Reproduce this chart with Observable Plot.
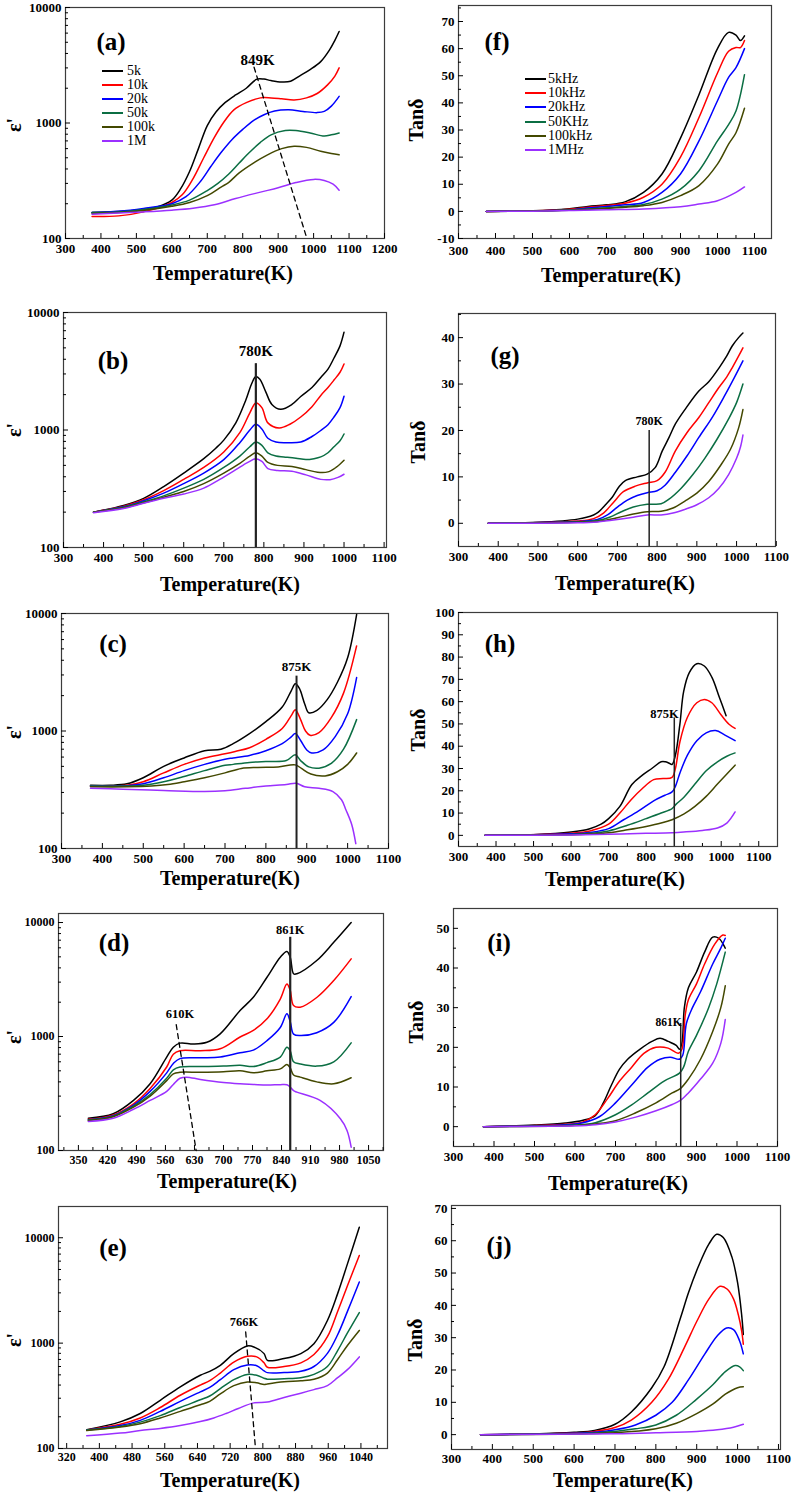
<!DOCTYPE html>
<html><head><meta charset="utf-8">
<script src="https://cdn.jsdelivr.net/npm/d3@7"></script>
<script src="https://cdn.jsdelivr.net/npm/@observablehq/plot@0.6"></script>
<style>
body{margin:0;background:#fff;}
#fig{position:relative;width:796px;height:1497px;overflow:hidden;background:#fff;font-family:"Liberation Serif","DejaVu Serif","Times New Roman",serif;color:#000;}
#fig svg{position:absolute;}
.abs{position:absolute;white-space:nowrap;line-height:1;}
.xl{font-weight:bold;font-size:20px;transform:translate(-50%,-50%);}
.yl{font-weight:bold;font-size:20px;transform:translate(-50%,-50%) rotate(-90deg);}
.tag{font-weight:bold;font-size:25px;transform:translate(-50%,-50%);}
.leg{font-size:14px;transform:translate(0,-50%);}
.legl{position:absolute;height:0;border-top:2px solid #000;}
</style></head><body><div id="fig"></div>
<script>
// ---------- series labels and colours ----------
const freqEps = ["5k","10k","20k","50k","100k","1M"];
const freqTan = ["5kHz","10kHz","20kHz","50KHz","100kHz","1MHz"];
const colors = ["#000000","#ff0000","#0000ff","#0b6e43","#434800","#9b30ff"];

// ---------- (a) eps' ----------
const epsA = [
 [[375,168],[450,171],[520,178],[560,188],[600,215],[625,270],[650,380],[675,600],[700,950],[725,1250],[750,1500],[780,1750],[810,2000],[840,2400],[860,2400],[880,2330],[910,2270],[935,2300],[960,2550],[990,2900],[1020,3400],[1045,4300],[1060,5200],[1072,6200]],
 [[375,155],[450,157],[520,170],[600,205],[630,240],[660,330],[690,500],[720,750],[745,1000],[775,1300],[810,1500],[850,1650],[880,1650],[910,1620],[945,1580],[980,1650],[1010,1800],[1040,2150],[1060,2550],[1072,3000]],
 [[375,168],[450,172],[520,182],[600,200],[640,230],[680,310],[710,420],[740,560],[770,720],[800,880],[830,1050],[860,1180],[890,1270],[930,1300],[970,1260],[1010,1230],[1030,1260],[1050,1400],[1072,1700]],
 [[375,168],[450,170],[520,178],[600,195],[650,215],[700,260],[730,300],[760,360],[790,450],[820,560],[850,680],[880,790],[920,860],[950,860],[990,820],[1030,770],[1050,790],[1072,820]],
 [[375,165],[450,168],[520,175],[600,190],[650,205],[700,235],[740,280],[760,305],[790,370],[830,450],[870,530],[910,600],[945,630],[980,615],[1020,570],[1050,545],[1072,530]],
 [[375,162],[450,166],[520,170],[600,176],[660,183],[720,196],[780,222],[850,252],[900,275],[950,305],[1000,325],[1030,318],[1055,295],[1072,262]]
];
// ---------- (f) tan delta ----------
const tanF = [
 [[375,0],[450,0.05],[500,0.2],[550,0.5],[600,1],[650,1.8],[700,2.4],[750,3.5],[800,7],[850,13.8],[900,27],[950,43],[1000,60],[1030,66],[1050,65],[1062,63],[1073,64.7]],
 [[375,0],[450,0.05],[500,0.2],[550,0.4],[600,0.8],[650,1.5],[700,2.2],[750,3],[800,5.2],[850,10],[900,20],[950,34.6],[1000,51],[1030,59],[1050,60.4],[1062,60.4],[1073,63]],
 [[375,0],[500,0.15],[550,0.3],[600,0.6],[650,1.2],[700,1.8],[750,2.4],[800,3.3],[850,7],[900,13.8],[950,26],[1000,40.8],[1030,49.4],[1050,53],[1073,60]],
 [[375,0],[500,0.1],[600,0.5],[650,0.9],[700,1.3],[750,1.8],[800,2.5],[850,4.5],[900,8.2],[950,15],[1000,26],[1030,32],[1050,37],[1073,50.4]],
 [[375,0],[500,0.1],[600,0.4],[650,0.7],[700,1.1],[750,1.5],[800,2.1],[850,3.3],[900,5.8],[950,9.5],[1000,17.4],[1030,24.8],[1050,29],[1073,38]],
 [[375,0],[500,0.05],[600,0.3],[700,0.6],[800,0.9],[900,1.7],[950,2.7],[1000,3.9],[1050,7],[1073,9]]
];
// ---------- (b) eps' ----------
const epsB = [
 [[375,200],[450,228],[500,262],[550,330],[600,430],[650,570],[680,700],[700,820],[730,1150],[755,1800],[770,2500],[780,2850],[790,2700],[805,2100],[820,1650],[842,1500],[870,1650],[892,1930],[920,2300],[942,2800],[960,3300],[975,4100],[990,5200],[1000,6800]],
 [[375,200],[450,225],[500,255],[550,305],[600,380],[650,480],[700,650],[740,950],[765,1400],[780,1700],[795,1550],[810,1150],[838,1040],[865,1120],[892,1290],[920,1580],[942,1970],[960,2300],[975,2660],[990,3100],[1000,3650]],
 [[375,200],[450,222],[500,250],[550,290],[600,350],[650,430],[700,560],[740,780],[765,1000],[780,1120],[795,1020],[810,850],[830,790],[855,780],[892,790],[920,880],[942,990],[960,1110],[975,1290],[990,1550],[1000,1940]],
 [[375,200],[450,220],[500,245],[550,275],[600,320],[650,380],[700,480],[740,600],[765,720],[780,790],[795,740],[810,640],[830,600],[850,590],[880,575],[905,560],[925,570],[942,590],[960,640],[975,720],[990,810],[1000,925]],
 [[375,200],[450,218],[500,240],[550,268],[600,300],[650,350],[700,430],[740,520],[765,600],[780,640],[795,600],[810,530],[834,500],[870,490],[905,460],[934,437],[960,440],[980,480],[1000,553]],
 [[375,198],[450,215],[500,238],[550,262],[600,285],[650,320],[690,380],[730,460],[760,530],[780,570],[795,540],[810,470],[834,452],[870,445],[905,415],[942,380],[965,378],[985,395],[1000,420]]
];
// ---------- (g) tan delta ----------
const tanG = [
 [[375,0],[500,0.2],[600,0.9],[640,1.8],[652,2.4],[670,4],[687,5.6],[705,8],[720,9.2],[750,10],[775,10.6],[795,12],[813,15.6],[830,18.5],[846,21.4],[870,24.5],[905,28.5],[930,30.5],[956,33.5],[975,36],[989,38.2],[1005,40],[1016,41]],
 [[375,0],[600,0.5],[640,1],[665,2.2],[690,4.5],[715,6.8],[745,8],[775,8.7],[800,9.2],[820,11],[846,15.6],[875,19.5],[905,22.8],[930,26],[955,29.2],[975,31.5],[989,33.5],[1005,36],[1016,37.8]],
 [[375,0],[600,0.4],[650,0.8],[675,1.8],[700,3.5],[725,5],[750,6],[775,6.6],[800,7],[820,8.2],[846,11],[875,14.5],[905,18.5],[940,23],[970,27.5],[995,31.5],[1016,35]],
 [[375,0],[600,0.3],[650,0.6],[680,1.3],[710,2.5],[740,3.5],[775,4.1],[810,4.2],[830,5.2],[860,7.5],[890,10.5],[920,14],[950,18],[980,22.5],[1000,26],[1016,30]],
 [[375,0],[600,0.2],[650,0.4],[700,1.2],[740,2],[775,2.5],[810,2.6],[840,3.3],[870,4.8],[900,6.5],[930,9],[960,12.5],[985,16],[1005,20.5],[1016,24.5]],
 [[375,0],[600,0.1],[650,0.3],[700,0.8],[740,1.3],[775,1.8],[810,1.8],[840,2.2],[870,3],[900,4],[930,5.5],[955,7.5],[980,10.5],[1000,14],[1010,16.5],[1016,19]]
];
// ---------- (c) eps' ----------
const epsC = [
 [[371,345],[420,345],[460,355],[500,400],[550,500],[600,590],[650,680],[690,700],[720,780],[760,950],[800,1200],[840,1600],[862,2200],[872,2520],[882,2300],[895,1700],[905,1430],[925,1500],[950,1850],[975,2600],[1000,4200],[1022,9800]],
 [[371,340],[460,345],[500,370],[550,440],[600,520],[650,590],[700,640],[725,670],[760,720],[800,850],[840,1050],[862,1350],[872,1520],[885,1250],[897,1000],[908,920],[930,970],[960,1300],[990,2100],[1022,5300]],
 [[371,340],[460,342],[500,355],[550,400],[600,460],[650,520],[700,575],[720,590],[760,620],[800,680],[840,780],[862,890],[872,950],[885,830],[900,690],[912,650],[940,690],[970,900],[1000,1400],[1022,2850]],
 [[371,340],[460,340],[500,345],[550,370],[600,410],[650,460],[700,510],[720,520],[760,540],[800,550],[850,560],[872,627],[885,560],[905,495],[930,483],[960,530],[990,700],[1022,1250]],
 [[371,335],[460,335],[520,340],[560,350],[600,370],[650,400],[700,440],[740,480],[780,490],[830,495],[872,515],[887,480],[910,430],[945,415],[975,450],[1000,520],[1022,650]],
 [[371,325],[450,320],[550,312],[650,305],[700,310],[750,325],[800,340],[850,350],[874,359],[895,335],[930,325],[964,305],[985,260],[996,213],[1010,160],[1020,110]]
];
// ---------- (h) tan delta ----------
const tanH = [
 [[371,0],[500,0.3],[600,1.5],[650,3],[680,5],[700,7.5],[730,13],[762,22.8],[790,27],[815,30],[840,33],[851,33],[860,32.5],[869,31.8],[878,36],[890,50],[900,64.6],[915,73],[935,77],[955,76],[975,71],[995,62],[1013,53.7]],
 [[371,0],[600,1],[650,2],[700,5],[730,10],[760,16],[790,21],[820,25],[845,25.5],[869,26],[878,30],[890,42],[910,53],[935,59.5],[955,61],[975,59.5],[1000,54],[1020,50],[1037,48]],
 [[371,0],[600,0.7],[650,1.3],[700,3],[740,7],[780,11],[820,15.5],[850,18],[869,19.5],[878,22],[890,28],[910,36],[935,42.5],[960,46],[985,47],[1010,45],[1037,42.5]],
 [[371,0],[600,0.4],[650,0.9],[700,2],[750,4.5],[800,7.5],[840,10],[869,12],[880,14],[900,17],[930,23],[960,29],[990,33],[1015,35.5],[1037,37]],
 [[371,0],[600,0.3],[650,0.6],[700,1.2],[750,2.5],[800,4],[840,5.5],[869,7],[900,9.5],[930,13],[960,17.5],[990,23],[1015,27.5],[1037,31.5]],
 [[371,0],[600,0.2],[700,0.5],[800,0.9],[869,1.2],[900,1.5],[950,2.2],[990,3.3],[1015,5.5],[1037,10.5]]
];
// ---------- (d) eps' ----------
const epsD = [
 [[374,192],[434,210],[483,275],[523,385],[563,660],[579,805],[595,875],[628,860],[660,890],[692,1055],[740,1690],[772,2210],[805,3310],[837,4960],[853,5570],[861,4960],[869,3550],[877,3550],[925,4640],[966,6700],[1008,10000]],
 [[374,188],[434,205],[483,257],[523,350],[563,540],[579,700],[595,750],[644,750],[692,780],[740,990],[772,1130],[805,1430],[837,2130],[853,2890],[861,2540],[869,1870],[885,1810],[925,2200],[966,3100],[1008,4800]],
 [[374,186],[434,202],[483,250],[523,330],[563,480],[579,580],[595,640],[644,650],[692,660],[740,720],[772,760],[805,920],[837,1200],[853,1580],[861,1350],[869,1050],[885,1020],[925,1080],[966,1330],[1008,2240]],
 [[374,185],[434,200],[483,245],[523,310],[563,430],[579,510],[595,540],[644,545],[700,550],[740,560],[772,545],[805,590],[837,660],[853,805],[861,750],[869,600],[885,575],[925,550],[966,600],[1008,880]],
 [[374,183],[434,198],[483,240],[523,300],[563,410],[579,470],[595,485],[644,485],[700,490],[740,500],[772,480],[805,500],[837,520],[853,567],[861,530],[869,460],[885,440],[925,400],[966,385],[1008,435]],
 [[374,180],[434,192],[483,230],[523,275],[563,330],[579,380],[595,430],[611,440],[644,420],[700,395],[740,385],[772,380],[805,375],[837,378],[853,377],[861,360],[869,335],[877,325],[933,275],[982,190],[998,150],[1008,107]]
];
// ---------- (i) tan delta ----------
const tanI = [
 [[374,0],[500,0.4],[576,0.9],[620,1.6],[650,2.8],[670,6],[690,10.5],[710,14.5],[730,17],[760,19.5],[790,21.5],[810,22.3],[830,21.5],[850,20.5],[858,19.5],[864,21],[870,30],[880,35],[900,39],[920,44],[940,47.8],[955,47.5],[971,45]],
 [[374,0],[576,0.6],[620,1.2],[650,3],[680,7],[710,11.5],[740,15],[770,18.5],[800,20],[830,19.8],[855,18.5],[864,19.5],[872,28],[880,32],[900,36],[920,41],[945,46],[965,48.3],[971,48.2]],
 [[374,0],[576,0.5],[620,1],[660,2.5],[700,6],[740,10.5],[780,15],[810,17],[835,17.5],[858,17],[866,18],[875,26],[890,30],[910,34],[940,41],[960,45],[971,47.5]],
 [[374,0],[600,0.4],[650,1],[700,3],[740,5.5],[780,8.5],[820,11.5],[858,13.5],[868,15],[880,19],[900,23],[930,30],[950,36],[971,44]],
 [[374,0],[600,0.3],[650,0.7],[700,1.5],[750,3.5],[800,6],[840,8.5],[860,9.6],[880,12],[910,17],[940,24],[960,30],[971,35.5]],
 [[374,0],[600,0.2],[650,0.5],[700,1.2],[750,2.4],[800,4],[840,5.6],[860,6.6],[880,8.5],[910,12],[940,16],[960,21],[971,27]]
];
// ---------- (e) eps' ----------
const epsE = [
 [[369,151],[451,179],[500,215],[549,287],[598,385],[647,496],[670,540],[696,616],[729,795],[762,940],[778,920],[803,795],[811,687],[852,713],[893,795],[925,988],[958,1640],[983,2950],[1007,5650],[1036,12600]],
 [[369,150],[451,170],[500,195],[549,245],[598,320],[647,400],[670,440],[696,520],[729,660],[762,750],[785,740],[803,650],[811,590],[852,600],[893,650],[925,780],[958,1150],[983,2000],[1007,3500],[1036,6800]],
 [[369,150],[451,165],[500,185],[549,225],[598,280],[647,345],[670,380],[696,450],[729,560],[762,620],[785,610],[803,545],[811,525],[852,525],[893,540],[925,600],[958,800],[983,1200],[1007,2000],[1036,3800]],
 [[369,150],[451,162],[500,178],[549,205],[598,245],[647,290],[670,315],[696,370],[729,450],[762,505],[785,495],[803,465],[811,455],[852,460],[893,470],[925,505],[958,600],[983,850],[1007,1250],[1036,1950]],
 [[369,148],[451,160],[500,172],[549,195],[598,225],[647,260],[670,280],[696,330],[729,395],[762,428],[785,420],[803,405],[811,410],[852,430],[893,440],[925,455],[958,520],[983,700],[1007,950],[1036,1320]],
 [[369,132],[451,140],[500,148],[549,155],[598,165],[647,180],[680,195],[710,215],[740,240],[778,271],[811,276],[852,305],[893,335],[925,362],[958,395],[983,470],[1007,560],[1036,740]]
];
// ---------- (j) tan delta ----------
const tanJ = [
 [[371,0],[500,0.2],[600,0.7],[650,1.3],[700,3.2],[740,7],[790,14.5],[820,21],[860,36],[880,44],[904,52],[930,59],[949,62],[965,61],[986,55],[1000,47],[1010,37],[1014,31]],
 [[371,0],[600,0.5],[650,1],[700,2.2],[740,4.5],[790,10],[830,17],[870,27],[900,35],[930,42],[957,45.9],[975,45],[990,42],[1002,37],[1010,32],[1014,28]],
 [[371,0],[600,0.4],[650,0.7],[700,1.5],[750,3],[800,6],[840,10],[880,17],[920,25],[950,30.5],[973,33],[990,32.5],[1005,29],[1014,25]],
 [[371,0],[650,0.5],[700,1],[750,1.8],[800,3],[850,6],[900,11],[940,15.5],[970,19.5],[994,21.4],[1005,21],[1014,19.8]],
 [[371,0],[700,0.6],[800,1.8],[850,3.5],[900,6.5],[940,9.5],[970,12.5],[1000,14.5],[1014,14.8]],
 [[371,0],[700,0.3],[800,0.6],[900,1],[950,1.5],[990,2.3],[1014,3.2]]
];

// ---------- tick values ----------
const ticks300to1200 = d3.range(300, 1201, 100);
const ticks300to1100 = d3.range(300, 1101, 100);
const ticksD = d3.range(350, 1051, 70);
const ticksE = d3.range(320, 1041, 80);
const epsTicks = [100, 1000, 10000];

function logMinor(lo, hi) {
  const out = [];
  for (let k = 100; k <= 10000; k *= 10) for (let m = 2; m <= 9; m++) { const v = m * k; if (v > lo && v < hi) out.push(v); }
  return out;
}
function between(ticks, lo, hi, step) {
  const out = [];
  for (let i = 0; i < ticks.length + 1; i++) { const v = ticks[0] - step / 2 + i * step; if (v > lo && v < hi) out.push(v); }
  return out;
}

const fig = document.getElementById("fig");
function txt(t, x, y, cls) {
  const d = document.createElement("div");
  d.className = "abs " + cls; d.textContent = t;
  d.style.left = x + "px"; d.style.top = y + "px";
  fig.appendChild(d);
}

function panel(p) {
  const [x0, x1, y0, y1] = p.frame;
  const ml = 50, mr = 12, mt = 12, mb = 30;
  const lin = !p.log;
  const yMinor = lin ? between(p.yTicks, p.y[0], p.y[1], p.yStep) : logMinor(p.y[0], p.y[1]);
  const xMinor = between(p.xTicks, p.x[0], p.x[1], p.xStep);
  const marks = [
    Plot.frame({stroke: "#3c3c3c", strokeWidth: 1.2}),
    Plot.axisX(xMinor, {anchor: "bottom", tickSize: -3, tickFormat: () => "", label: null}),
    Plot.axisY(yMinor, {anchor: "left", tickSize: -3, tickFormat: () => "", label: null}),
    Plot.axisX(p.xTicks, {anchor: "bottom", tickSize: -5, tickPadding: p.xpad || 10, tickFormat: d => String(d), label: null, fontSize: p.xfs || 13, fontWeight: "bold"}),
    Plot.axisY(p.yTicks, {anchor: "left", tickSize: -5, tickPadding: 9, tickFormat: d => String(d), label: null, fontSize: p.yfs || 13, fontWeight: "bold"}),
    ...p.series.map((s, i) => Plot.line(s, {x: d => d[0], y: d => d[1], stroke: colors[i], strokeWidth: 1.5, curve: "catmull-rom"})),
    ...(p.extras || [])
  ];
  const svg = Plot.plot({
    width: x1 - x0 + ml + mr, height: y1 - y0 + mt + mb,
    marginLeft: ml, marginRight: mr, marginTop: mt, marginBottom: mb,
    x: {domain: p.x},
    y: {type: p.log ? "log" : "linear", domain: p.y},
    style: {background: "transparent", overflow: "visible", fontFamily: "'Liberation Serif','DejaVu Serif','Times New Roman',serif", color: "#000"},
    marks
  });
  svg.style.left = (x0 - ml) + "px";
  svg.style.top = (y0 - mt) + "px";
  fig.appendChild(svg);
}

function ann(x, y, t, fs) {
  return Plot.text([{x, y, t}], {x: "x", y: "y", text: "t", fontSize: fs, fontWeight: "bold", fill: "#000"});
}
function dashed(pts) {
  return Plot.line(pts, {x: d => d[0], y: d => d[1], stroke: "#000", strokeWidth: 1.3, strokeDasharray: "5,4"});
}
function vline(x, ya, yb, w) {
  return Plot.ruleX([x], {y1: ya, y2: yb, stroke: "#222", strokeWidth: w || 2});
}

// (a)
panel({frame: [65, 384, 7, 238], x: [300, 1200], y: [100, 10000], log: true, series: epsA,
  xTicks: ticks300to1200, xStep: 100, yTicks: epsTicks,
  extras: [dashed([[832, 3040], [981, 100]]), ann(842, 3470, "849K", 15)]});
// (f)
panel({frame: [458, 771, 5, 238], x: [300, 1146], y: [-10, 75.9], series: tanF,
  xTicks: ticks300to1100, xStep: 100, xpad: 12, yTicks: d3.range(-10, 71, 10), yStep: 10});
// (b)
panel({frame: [63, 386, 312, 547], x: [300, 1106], y: [100, 10000], log: true, series: epsB,
  xTicks: ticks300to1100, xStep: 100, yTicks: epsTicks,
  extras: [vline(780, 100, 3670, 2.2), ann(780, 4700, "780K", 15)]});
// (g)
panel({frame: [458, 775, 313, 546], x: [300, 1098], y: [-5, 45.2], series: tanG,
  xTicks: ticks300to1100, xStep: 100, yTicks: d3.range(0, 41, 10), yStep: 10,
  extras: [vline(780, -5, 20, 1.5), ann(780, 21.9, "780K", 12)]});
// (c)
panel({frame: [61, 388, 613, 848], x: [300, 1100], y: [100, 10000], log: true, series: epsC,
  xTicks: ticks300to1100, xStep: 100, yTicks: epsTicks,
  extras: [vline(875, 100, 2930, 2), ann(875, 3500, "875K", 13)]});
// (h)
panel({frame: [458, 777, 612, 846], x: [300, 1150], y: [-5, 100], series: tanH,
  xTicks: ticks300to1100, xStep: 100, yTicks: d3.range(0, 101, 10), yStep: 10,
  extras: [vline(875, -5, 52.7, 1.5), ann(849, 54.3, "875K", 12.5)]});
// (d)
panel({frame: [58, 383, 913, 1150], x: [302, 1086], y: [100, 12000], log: true, series: epsD,
  xTicks: ticksD, xStep: 70, xfs: 12, yfs: 12, yTicks: epsTicks,
  extras: [vline(861, 100, 7420, 2.2), ann(861, 8600, "861K", 12.5), dashed([[586, 1270], [634, 100]]), ann(595, 1560, "610K", 12.5)]});
// (i)
panel({frame: [453, 777, 908, 1146], x: [300, 1100], y: [-5, 55], series: tanI,
  xTicks: ticks300to1100, xStep: 100, yTicks: d3.range(0, 51, 10), yStep: 10,
  extras: [vline(861, -5, 26, 1.5), ann(831, 26.3, "861K", 11.5)]});
// (e)
panel({frame: [58, 387, 1206, 1448], x: [300, 1105], y: [100, 19800], log: true, series: epsE,
  xTicks: ticksE, xStep: 80, xfs: 12, yfs: 12, xpad: 9, yTicks: epsTicks,
  extras: [dashed([[758, 1275], [782, 100]]), ann(754, 1600, "766K", 12.5)]});
// (j)
panel({frame: [451, 780, 1205, 1449], x: [300, 1105], y: [-4.6, 70.9], series: tanJ,
  xTicks: ticks300to1100, xStep: 100, xpad: 9, yTicks: d3.range(0, 71, 10), yStep: 10});

// ---------- panel labels, axis titles ----------
const tags = [["(a)",111,41],["(f)",497,41],["(b)",113,360],["(g)",505,355],["(c)",113,643],["(h)",500,643],["(d)",114,942],["(i)",499,942],["(e)",113,1247],["(j)",499,1245]];
tags.forEach(([t,x,y]) => txt(t, x, y, "tag"));
const xtitles = [[223,273],[611,275],[230,584],[625,583],[230,878],[615,879],[227,1181],[618,1183],[230,1480],[623,1480]];
xtitles.forEach(([x,y]) => txt("Temperature(K)", x, y, "xl"));
const ytitles = [["ε'",14,125],["Tanδ",416,120],["ε'",14,430],["Tanδ",418,442],["ε'",14,732],["Tanδ",418,730],["ε'",14,1037],["Tanδ",416,1022],["ε'",14,1340],["Tanδ",415,1340]];
ytitles.forEach(([t,x,y]) => txt(t, x, y, "yl"));

// ---------- legends ----------
function legend(labels, lx, tx, y0, dy) {
  labels.forEach((l, i) => {
    const y = y0 + i * dy;
    const ln = document.createElement("div");
    ln.className = "legl"; ln.style.left = lx + "px"; ln.style.width = "21px"; ln.style.top = (y - 1) + "px";
    ln.style.borderTopColor = colors[i];
    fig.appendChild(ln);
    txt(l, tx, y, "leg");
  });
}
legend(freqEps, 102, 127, 71, 13.9);
legend(freqTan, 525, 548, 79, 14.2);
</script></body></html>
